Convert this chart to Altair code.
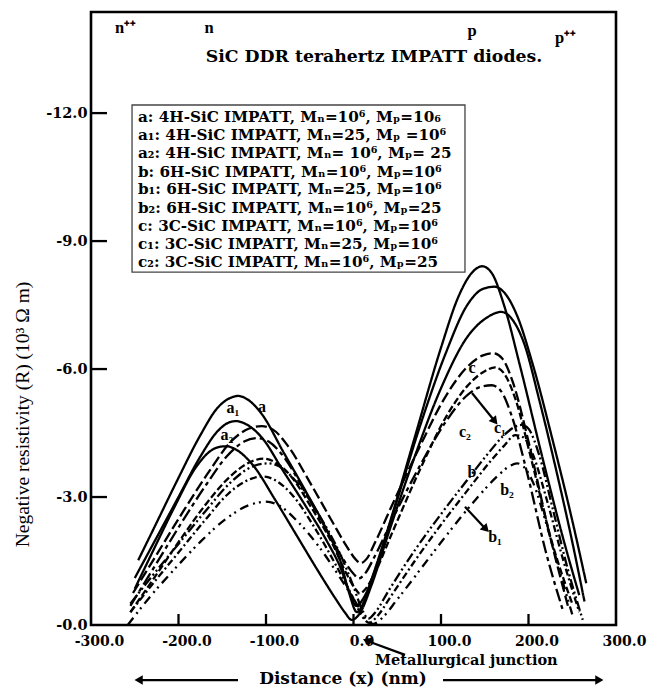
import altair as alt
import pandas as pd

# ---------------- data ----------------
# 4H-SiC (solid)
a_x = [-250, -225, -200, -175, -155, -142, -134, -124, -105, -80, -55, -30, -15, -5, 3, 12, 24, 45, 75, 105, 130, 148, 161, 172, 187, 205, 228, 250, 266]
a_y = [1.1, 2.05, 3.0, 3.95, 4.55, 4.75, 4.78, 4.72, 4.4, 3.6, 2.8, 1.95, 1.35, 0.8, 0.45, 0.65, 1.25, 2.6, 4.6, 6.35, 7.5, 7.88, 7.93, 7.8, 7.25, 6.1, 4.3, 2.45, 0.98]
a1_x = [-246, -225, -200, -175, -155, -140, -132, -122, -105, -80, -55, -30, -15, -5, 4, 12, 22, 40, 70, 100, 120, 135, 147, 158, 172, 190, 215, 240, 258]
a1_y = [1.52, 2.4, 3.45, 4.45, 5.1, 5.33, 5.37, 5.3, 4.95, 4.05, 3.15, 2.2, 1.5, 0.75, 0.3, 0.55, 1.15, 2.3, 4.4, 6.5, 7.7, 8.25, 8.41, 8.25, 7.5, 6.1, 4.0, 2.0, 0.7]
a2_x = [-250, -230, -205, -180, -162, -152, -145, -135, -115, -90, -65, -40, -20, -10, -2, 8, 20, 40, 70, 100, 130, 152, 169, 180, 195, 212, 232, 250, 264]
a2_y = [0.85, 1.7, 2.75, 3.7, 4.1, 4.18, 4.19, 4.12, 3.75, 2.95, 2.1, 1.25, 0.6, 0.3, 0.12, 0.3, 0.9, 2.15, 3.95, 5.55, 6.75, 7.2, 7.34, 7.2, 6.6, 5.3, 3.6, 1.95, 0.55]
# 6H-SiC (dash-dot-dot)
b_x = [-255, -230, -200, -170, -140, -115, -97, -85, -65, -40, -15, 0, 10, 17, 25, 40, 70, 100, 130, 155, 172, 185, 192, 200, 212, 228, 245, 262]
b_y = [0.5, 1.15, 1.9, 2.65, 3.35, 3.72, 3.79, 3.72, 3.35, 2.6, 1.65, 0.9, 0.35, 0.15, 0.3, 0.8, 1.75, 2.6, 3.4, 4.05, 4.45, 4.65, 4.69, 4.6, 4.0, 2.7, 1.3, 0.12]
b1_x = [-255, -230, -200, -170, -142, -118, -103, -90, -70, -45, -20, -2, 10, 18, 27, 42, 70, 100, 130, 155, 172, 185, 194, 205, 220, 240, 258]
b1_y = [0.3, 0.95, 1.7, 2.45, 3.1, 3.42, 3.48, 3.4, 3.05, 2.3, 1.4, 0.7, 0.2, 0.05, 0.2, 0.65, 1.5, 2.35, 3.15, 3.8, 4.2, 4.45, 4.4, 4.0, 3.0, 1.5, 0.3]
b2_x = [-258, -235, -205, -175, -145, -118, -100, -85, -65, -40, -15, 5, 15, 22, 32, 50, 80, 110, 140, 165, 178, 187, 195, 205, 220, 235, 250]
b2_y = [0.0, 0.6, 1.3, 1.95, 2.5, 2.82, 2.89, 2.8, 2.45, 1.85, 1.1, 0.45, 0.12, 0.02, 0.15, 0.6, 1.4, 2.2, 2.95, 3.5, 3.72, 3.79, 3.7, 3.35, 2.4, 1.3, 0.25]
# 3C-SiC (dashed)
c_x = [-252, -225, -195, -165, -140, -120, -105, -92, -75, -50, -25, -8, 2, 8, 15, 25, 45, 75, 105, 130, 148, 160, 170, 182, 200, 222, 245]
c_y = [0.75, 1.65, 2.65, 3.6, 4.3, 4.6, 4.66, 4.58, 4.2, 3.35, 2.45, 1.85, 1.55, 1.45, 1.55, 1.95, 2.85, 4.15, 5.35, 6.05, 6.32, 6.37, 6.25, 5.7, 4.3, 2.3, 0.45]
c1_x = [-255, -228, -198, -168, -145, -125, -110, -97, -80, -55, -30, -12, 0, 6, 13, 24, 45, 75, 105, 128, 145, 158, 168, 180, 198, 220, 240]
c1_y = [0.45, 1.35, 2.35, 3.3, 3.95, 4.3, 4.38, 4.3, 3.95, 3.1, 2.2, 1.55, 1.2, 1.09, 1.2, 1.6, 2.5, 3.7, 4.75, 5.35, 5.58, 5.62, 5.5, 4.95, 3.6, 1.7, 0.3]
c2_x = [-255, -228, -198, -168, -140, -118, -103, -90, -72, -48, -24, -8, 2, 7, 14, 25, 45, 75, 105, 130, 150, 162, 172, 185, 203, 226, 250]
c2_y = [0.3, 1.1, 2.0, 2.85, 3.5, 3.82, 3.9, 3.82, 3.5, 2.75, 1.9, 1.2, 0.85, 0.74, 0.85, 1.25, 2.2, 3.6, 4.85, 5.6, 5.95, 6.04, 5.9, 5.3, 3.9, 2.0, 0.5]

series_names = ["a", "a1", "a2", "b", "b1", "b2", "c", "c1", "c2"]
series_x = [a_x, a1_x, a2_x, b_x, b1_x, b2_x, c_x, c1_x, c2_x]
series_y = [a_y, a1_y, a2_y, b_y, b1_y, b2_y, c_y, c1_y, c2_y]

legend_rows = [
    "a: 4H-SiC IMPATT, M\u2099=10\u2076, M\u209a=10\u2086",
    "a\u2081: 4H-SiC IMPATT, M\u2099=25, M\u209a =10\u2076",
    "a\u2082: 4H-SiC IMPATT, M\u2099= 10\u2076, M\u209a= 25",
    "b: 6H-SiC IMPATT, M\u2099=10\u2076, M\u209a=10\u2076",
    "b\u2081: 6H-SiC IMPATT, M\u2099=25, M\u209a=10\u2076",
    "b\u2082: 6H-SiC IMPATT, M\u2099=10\u2076, M\u209a=25",
    "c: 3C-SiC  IMPATT, M\u2099=10\u2076, M\u209a=10\u2076",
    "c\u2081: 3C-SiC IMPATT, M\u2099=25, M\u209a=10\u2076",
    "c\u2082: 3C-SiC IMPATT, M\u2099=10\u2076, M\u209a=25",
]
x_tick_values = [-300, -200, -100, 0, 100, 200, 300]
y_tick_values = [0, 3, 6, 9, 12]

# ---------------- build tables ----------------
rows = []
for name, xs, ys in zip(series_names, series_x, series_y):
    for i, (xv, yv) in enumerate(zip(xs, ys)):
        rows.append({"series": name, "x": xv, "R": yv, "order": i})
df = pd.DataFrame(rows)

FONT = "Liberation Serif"
WIDE = "DejaVu Serif"
xscale = alt.Scale(domain=[-300, 300], nice=False, zero=False)
yscale = alt.Scale(domain=[0, 14.37], nice=False, zero=False)

dash_range = [[1, 0], [1, 0], [1, 0],
              [10, 3, 2, 3, 2, 3], [7, 3, 2, 3], [9, 5, 2, 4, 2, 5],
              [11, 4], [13, 4, 4, 4], [7, 3]]

lines = alt.Chart(df).mark_line(interpolate="monotone", color="black", strokeWidth=2.3).encode(
    x=alt.X("x:Q", scale=xscale,
            axis=alt.Axis(values=x_tick_values, title=None, grid=False, domain=False, tickSize=0,
                          labelExpr="(datum.value < 0 ? '-' : '') + format(abs(datum.value), '.1f')",
                          labelFont=WIDE, labelFontWeight="bold", labelFontSize=14, labelColor="black",
                          labelPadding=9, labelOffset=8, labelFlush=False)),
    y=alt.Y("R:Q", scale=yscale,
            axis=alt.Axis(values=y_tick_values, grid=False, domain=False, tickSize=0,
                          labelExpr="'-' + format(datum.value, '.1f')",
                          labelFont=WIDE, labelFontWeight="bold", labelFontSize=14.5, labelColor="black",
                          labelPadding=4, labelFlush=False,
                          title="Negative resistivity (R) (10\u00b3 \u03a9 m)",
                          titleFont=FONT, titleFontWeight="normal", titleFontSize=19.5, titleColor="black",
                          titleAngle=270, titleX=-69, titleY=402, titleAlign="center", titleBaseline="middle")),
    detail="series:N",
    order="order:Q",
    strokeDash=alt.StrokeDash("series:N", scale=alt.Scale(domain=series_names, range=dash_range), legend=None),
)

# inward ticks
xt = alt.Chart(pd.DataFrame({"x": x_tick_values[1:-1]})).mark_rule(color="black", strokeWidth=2.3).encode(
    x="x:Q", y=alt.value(613), y2=alt.value(602))
yt = alt.Chart(pd.DataFrame({"R": y_tick_values[1:]})).mark_rule(color="black", strokeWidth=2.3).encode(
    y="R:Q", x=alt.value(0), x2=alt.value(16))

# legend box
box_df = pd.DataFrame({"x": [-253.1], "x2": [127.4], "R": [12.19], "R2": [8.27]})
box = alt.Chart(box_df).mark_rect(fill="white", stroke="#444", strokeWidth=1.3).encode(
    x="x:Q", x2="x2:Q", y="R:Q", y2="R2:Q")
leg_df = pd.DataFrame({"text": legend_rows, "x": [-246.3] * 9,
                       "R": [11.905, 11.48, 11.06, 10.63, 10.21, 9.78, 9.36, 8.94, 8.51]})
leg = alt.Chart(leg_df).mark_text(align="left", baseline="middle", font=WIDE, fontWeight="bold",
                                  fontSize=15.2, color="black").encode(x="x:Q", y="R:Q", text="text:N")

def texts(d, size, align="center", weight="bold", font=FONT):
    return alt.Chart(pd.DataFrame(d)).mark_text(align=align, baseline="middle", font=font,
                                                fontWeight=weight, fontSize=size, color="black").encode(
        x="x:Q", y="R:Q", text="text:N")

top_left = texts({"text": ["n\u207a\u207a", "p\u207a\u207a"], "x": [-272.6, 230.3], "R": [14.0, 13.76]}, 16.5, "left")
top_c = texts({"text": ["n", "p"], "x": [-165.1, 135.4], "R": [13.99, 13.92]}, 16.5)
title = texts({"text": ["SiC DDR terahertz IMPATT diodes."], "x": [23.4], "R": [13.31]}, 17.3, font=WIDE)
curve_labels = texts({"text": ["a\u2081", "a", "a\u2082", "c", "c\u2082", "c\u2081", "b", "b\u2082", "b\u2081"],
                      "x": [-137.7, -104.6, -144.6, 135.4, 127.4, 167.4, 135.4, 175.4, 161.7],
                      "R": [5.09, 5.11, 4.45, 6.02, 4.52, 4.62, 3.59, 3.16, 2.06]}, 16)
junction = texts({"text": ["Metallurgical junction"], "x": [24.6], "R": [-0.84]}, 14.5, "left", font=WIDE)
xtitle = texts({"text": ["Distance (x) (nm)"], "x": [-12.0], "R": [-1.27]}, 17, font=WIDE)

arrows_df = pd.DataFrame({
    "x": [135.4, 127.4, 58.9, -132.0, 102.3],
    "R": [5.44, 2.77, -0.70, -1.29, -1.29],
    "x2": [160.6, 150.3, 16.6, -244.0, 279.4],
    "R2": [4.80, 2.27, -0.38, -1.29, -1.29],
    "ang": [141, 136, 291, 270, 90],
})
shafts = alt.Chart(arrows_df).mark_rule(color="black", strokeWidth=2.2).encode(
    x="x:Q", y="R:Q", x2="x2:Q", y2="R2:Q")
heads = alt.Chart(arrows_df).mark_point(shape="triangle", filled=True, color="black", opacity=1, size=90).encode(
    x="x2:Q", y="R2:Q", angle=alt.Angle("ang:Q", scale=None))

chart = alt.layer(lines, xt, yt, box, leg, top_left, top_c, title, curve_labels, junction, xtitle,
                  shafts, heads).properties(
    width=525, height=613,
    autosize=alt.AutoSizeParams(type="none"),
    padding={"left": 91, "top": 12, "right": 36, "bottom": 63},
    background="white",
).configure_view(stroke="black", strokeWidth=2.6)

chart.save("out.html", embed_options={"renderer": "svg", "actions": False})
